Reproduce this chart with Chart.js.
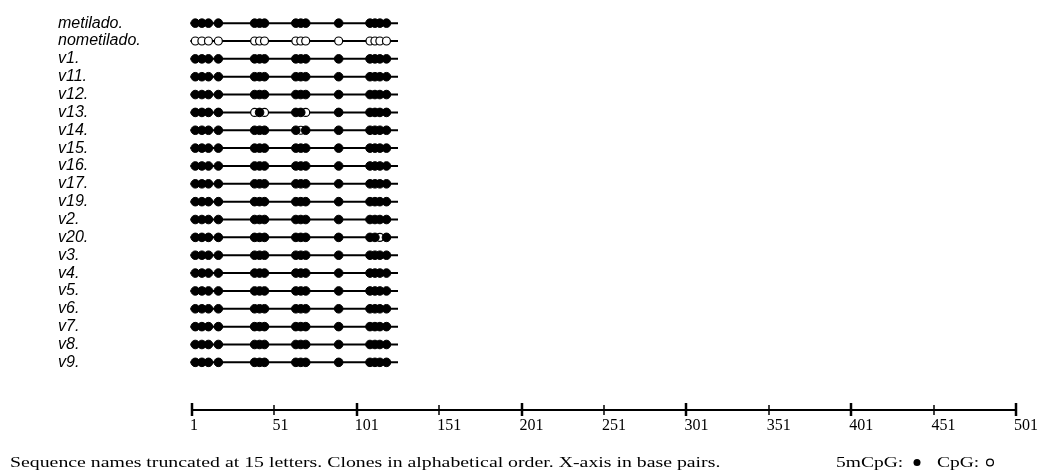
<!DOCTYPE html>
<html>
<head>
<meta charset="utf-8">
<script src="https://cdn.jsdelivr.net/npm/chart.js@4.4.1/dist/chart.umd.min.js"></script>
<style>
    html, body { margin: 0; padding: 0; background: #ffffff; }
    #wrap { position: relative; width: 1046px; height: 474px; }
</style>
</head>
<body>
<div id="wrap"><canvas id="methChart" width="1046" height="474"></canvas></div>
<script>
// clone names, top to bottom
const clones = [
    'metilado.', 'nometilado.', 'v1.', 'v11.', 'v12.', 'v13.', 'v14.',
    'v15.', 'v16.', 'v17.', 'v19.', 'v2.', 'v20.', 'v3.', 'v4.', 'v5.',
    'v6.', 'v7.', 'v8.', 'v9.'
];

// CpG positions (bp) along the sequence
const cpgSites = [3, 7, 11, 17, 39, 42, 45, 64, 67, 70, 90, 109, 112, 115, 119];

// 1 = methylated (5mCpG), 0 = unmethylated (CpG), one char per site
const methylation = [
    '111111111111111', // metilado
    '000000000000000', // nometilado
    '111111111111111', // v1
    '111111111111111', // v11
    '111111111111111', // v12
    '111101011011111', // v13
    '111111110111111', // v14
    '111111111111111', // v15
    '111111111111111', // v16
    '111111111111111', // v17
    '111111111111111', // v19
    '111111111111111', // v2
    '111111111111101', // v20
    '111111111111111', // v3
    '111111111111111', // v4
    '111111111111111', // v5
    '111111111111111', // v6
    '111111111111111', // v7
    '111111111111111', // v8
    '111111111111111'  // v9
];

const seqStart = 0;
const seqEnd = 126;

const xTicks = [1, 51, 101, 151, 201, 251, 301, 351, 401, 451, 501];

const footerText = 'Sequence names truncated at 15 letters. Clones in alphabetical order. X-axis in base pairs.';

function buildPoints(flag) {
    const pts = [];
    methylation.forEach((pattern, row) => {
        cpgSites.forEach((site, k) => {
            if (pattern[k] === flag) pts.push({ x: site, y: row });
        });
    });
    return pts;
}

const lineData = [];
clones.forEach((name, row) => {
    lineData.push({ x: seqStart, y: row });
    lineData.push({ x: seqEnd, y: row });
    lineData.push({ x: seqEnd, y: null });
});

// the reference text is drawn wide, so stretch it a bit
function wideText(ctx, text, x, y, stretch) {
    ctx.save();
    ctx.translate(x, y);
    ctx.scale(stretch, 1);
    ctx.fillText(text, 0, 0);
    ctx.restore();
}

// axis ticks across the line, footer note and symbol key
const extrasPlugin = {
    id: 'extras',
    afterDraw(chart) {
        const ctx = chart.ctx;
        const xs = chart.scales.x;
        const y0 = chart.chartArea.bottom;

        ctx.save();
        ctx.strokeStyle = '#000';
        xTicks.forEach((v) => {
            const px = Math.round(xs.getPixelForValue(v));
            const major = (v - 1) % 100 === 0;
            ctx.lineWidth = major ? 2.5 : 1.5;
            ctx.beginPath();
            ctx.moveTo(px, y0 - (major ? 7 : 5));
            ctx.lineTo(px, y0 + (major ? 6 : 5));
            ctx.stroke();
        });

        ctx.fillStyle = '#000';
        ctx.font = '15px "Liberation Serif"';
        ctx.textBaseline = 'alphabetic';
        ctx.textAlign = 'left';
        wideText(ctx, footerText, 10, 467, 1.32);

        wideText(ctx, '5mCpG:', 836, 467, 1.3);
        ctx.beginPath();
        ctx.arc(917, 462.5, 3.5, 0, Math.PI * 2);
        ctx.fill();

        wideText(ctx, 'CpG:', 937, 467, 1.3);
        ctx.lineWidth = 1.3;
        ctx.beginPath();
        ctx.arc(990, 462.5, 3.4, 0, Math.PI * 2);
        ctx.stroke();
        ctx.restore();
    },
};

const chart = new Chart(document.getElementById('methChart'), {
    type: 'scatter',
    data: {
        datasets: [
            {
                label: '5mCpG',
                data: buildPoints('1'),
                backgroundColor: '#000000',
                borderColor: '#000000',
                borderWidth: 1,
                pointRadius: 4.3,
                order: 0,
            },
            {
                label: 'CpG',
                data: buildPoints('0'),
                backgroundColor: '#ffffff',
                borderColor: '#000000',
                borderWidth: 1.2,
                pointRadius: 4,
                order: 1,
            },
            {
                type: 'line',
                label: 'sequence',
                data: lineData,
                borderColor: '#000000',
                borderWidth: 2,
                pointRadius: 0,
                spanGaps: false,
                fill: false,
                order: 2,
            },
        ],
    },
    options: {
        responsive: false,
        animation: false,
        clip: false,
        layout: {
            padding: { left: 58, right: 30, top: 3, bottom: 0 },
        },
        plugins: {
            legend: { display: false },
            tooltip: { enabled: false },
        },
        scales: {
            x: {
                type: 'linear',
                position: 'bottom',
                min: 1,
                max: 501,
                afterBuildTicks(scale) {
                    scale.ticks = xTicks.map((v) => ({ value: v }));
                },
                afterFit(scale) {
                    scale.height = 64;
                    scale.paddingLeft = 0;
                    scale.paddingRight = 0;
                },
                grid: { display: false, drawTicks: false },
                border: { display: true, color: '#000000', width: 2 },
                ticks: {
                    autoSkip: false,
                    maxRotation: 0,
                    align: 'start',
                    labelOffset: -2,
                    padding: 6,
                    color: '#000000',
                    font: { family: '"Liberation Serif"', size: 16 },
                    callback(value) {
                        return String(value);
                    },
                },
            },
            y: {
                type: 'linear',
                position: 'left',
                reverse: true,
                min: -1,
                max: 21.67,
                afterBuildTicks(scale) {
                    scale.ticks = clones.map((c, i) => ({ value: i }));
                },
                afterFit(scale) {
                    scale.width = 134;
                    scale.paddingTop = 0;
                    scale.paddingBottom = 0;
                },
                grid: { display: false, drawTicks: false },
                border: { display: false },
                ticks: {
                    autoSkip: false,
                    crossAlign: 'far',
                    padding: 0,
                    color: '#000000',
                    font: { family: '"Liberation Sans"', size: 16, style: 'italic' },
                    callback(value) {
                        return clones[value] !== undefined ? clones[value] : '';
                    },
                },
            },
        },
    },
    plugins: [extrasPlugin],
});
</script>
</body>
</html>
